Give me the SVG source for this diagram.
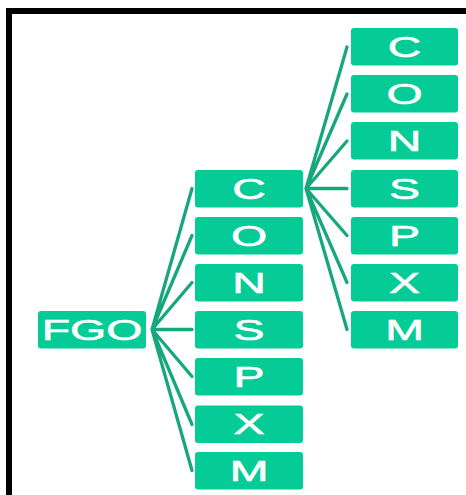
<svg xmlns="http://www.w3.org/2000/svg" width="466" height="495" viewBox="0 0 466 495">
<style>
.box{fill:#05cb96}
.t{font-family:"Liberation Sans",Arial,sans-serif;font-size:30px;fill:#ffffff;stroke:#ffffff;stroke-width:0.6;text-anchor:middle}
.c{stroke:#17a77d;stroke-width:3.3;fill:none;stroke-linecap:round}
</style>
<rect x="0" y="0" width="466" height="495" fill="#ffffff"/>
<rect x="9" y="11" width="480" height="520" fill="none" stroke="#000000" stroke-width="6"/>
<g id="connectors">
<path class="c" d="M152,329.5 L192,188.5 M152,329.5 L192,235.5 M152,329.5 L192,282.5 M152,329.5 L192,329.5 M152,329.5 L192,376.5 M152,329.5 L192,424.5 M152,329.5 L192,470.5"/>
<path class="c" d="M306,188.5 L347,47 M306,188.5 L347,94 M306,188.5 L347,141 M306,188.5 L347,188.5 M306,188.5 L347,235.5 M306,188.5 L347,282.5 M306,188.5 L347,329.5"/>
</g>
<g id="FGO"><rect class="box" x="38" y="311" width="108" height="37.5" rx="3"/><text class="t" transform="translate(92,339.5) scale(1.55,1)">FGO</text></g>
<g id="m-C"><rect class="box" x="195" y="170" width="108" height="37.5" rx="3"/><text class="t" transform="translate(249,198.5) scale(1.55,1)">C</text></g>
<g id="m-O"><rect class="box" x="195" y="217" width="108" height="37.5" rx="3"/><text class="t" transform="translate(249,245.5) scale(1.55,1)">O</text></g>
<g id="m-N"><rect class="box" x="195" y="264" width="108" height="37.5" rx="3"/><text class="t" transform="translate(249,292.5) scale(1.55,1)">N</text></g>
<g id="m-S"><rect class="box" x="195" y="311" width="108" height="37.5" rx="3"/><text class="t" transform="translate(249,339.5) scale(1.55,1)">S</text></g>
<g id="m-P"><rect class="box" x="195" y="358" width="108" height="37.5" rx="3"/><text class="t" transform="translate(249,386.5) scale(1.55,1)">P</text></g>
<g id="m-X"><rect class="box" x="195" y="405.5" width="108" height="37.5" rx="3"/><text class="t" transform="translate(249,434) scale(1.55,1)">X</text></g>
<g id="m-M"><rect class="box" x="195" y="452" width="108" height="37.5" rx="3"/><text class="t" transform="translate(249,480.5) scale(1.55,1)">M</text></g>
<g id="r-C"><rect class="box" x="351" y="28" width="107" height="37.5" rx="3"/><text class="t" transform="translate(404.5,56.5) scale(1.55,1)">C</text></g>
<g id="r-O"><rect class="box" x="351" y="75" width="107" height="37.5" rx="3"/><text class="t" transform="translate(404.5,103.5) scale(1.55,1)">O</text></g>
<g id="r-N"><rect class="box" x="351" y="122" width="107" height="37.5" rx="3"/><text class="t" transform="translate(404.5,150.5) scale(1.55,1)">N</text></g>
<g id="r-S"><rect class="box" x="351" y="170" width="107" height="37.5" rx="3"/><text class="t" transform="translate(404.5,198.5) scale(1.55,1)">S</text></g>
<g id="r-P"><rect class="box" x="351" y="217" width="107" height="37.5" rx="3"/><text class="t" transform="translate(404.5,245.5) scale(1.55,1)">P</text></g>
<g id="r-X"><rect class="box" x="351" y="264" width="107" height="37.5" rx="3"/><text class="t" transform="translate(404.5,292.5) scale(1.55,1)">X</text></g>
<g id="r-M"><rect class="box" x="351" y="311" width="107" height="37.5" rx="3"/><text class="t" transform="translate(404.5,339.5) scale(1.55,1)">M</text></g>
</svg>
